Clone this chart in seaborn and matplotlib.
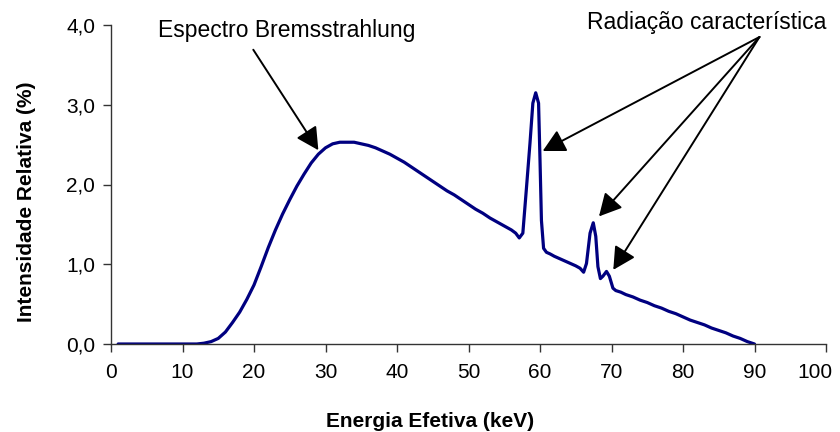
import matplotlib
matplotlib.use("Agg")
import matplotlib.pyplot as plt
from matplotlib.ticker import FuncFormatter
from matplotlib.transforms import ScaledTranslation
import seaborn as sns
import pandas as pd

# X-ray tube spectrum: relative intensity (%) versus effective energy (keV)
energia_kev = [
    1, 2, 3, 4, 5, 6, 7, 8, 9, 10, 11, 12, 13, 14, 15, 16, 17, 18, 19, 20,
    21, 22, 23, 24, 25, 26, 27, 28, 29, 30, 31, 32, 33, 34, 35, 36, 37, 38, 39, 40,
    41, 42, 43, 44, 45, 46, 47, 48, 49, 50, 51, 52, 53, 54, 55, 56, 56.6, 57.1,
    57.6, 58.1, 58.6, 59.0, 59.4, 59.8, 60.0, 60.2, 60.5, 60.9, 61.4, 62, 63, 64,
    65, 65.6, 66.1, 66.5, 67.0, 67.45, 67.8, 68.1, 68.45, 68.8, 69.3, 69.7, 70.2,
    70.6, 71.3, 72, 73, 74, 75, 76, 77, 78, 79, 80, 81, 82, 83, 84, 85, 86, 87,
    88, 89, 90,
]
intensidade = [
    0.0, 0.0, 0.0, 0.0, 0.0, 0.0, 0.0, 0.0, 0.0, 0.0, 0.0, 0.0, 0.01, 0.03, 0.07,
    0.15, 0.27, 0.40, 0.56, 0.74, 0.97, 1.21, 1.43, 1.63, 1.81, 1.98, 2.13, 2.27,
    2.38, 2.46, 2.51, 2.53, 2.53, 2.53, 2.51, 2.49, 2.46, 2.42, 2.38, 2.33,
    2.28, 2.22, 2.16, 2.10, 2.04, 1.98, 1.92, 1.87, 1.81, 1.75, 1.69, 1.64, 1.58,
    1.53, 1.48, 1.43, 1.39, 1.33,
    1.39, 1.95, 2.52, 3.02, 3.15, 3.02, 2.31, 1.55, 1.20, 1.15, 1.13, 1.10, 1.06,
    1.02, 0.98, 0.95, 0.90, 1.01, 1.39, 1.52, 1.35, 0.97, 0.82, 0.85, 0.91, 0.85,
    0.70, 0.67, 0.65, 0.62, 0.59, 0.55, 0.52, 0.48, 0.45, 0.41, 0.38, 0.34, 0.30,
    0.27, 0.24, 0.20, 0.17, 0.14, 0.10, 0.07, 0.03, 0.0,
]

x_ticks = [0, 10, 20, 30, 40, 50, 60, 70, 80, 90, 100]
y_ticks = [0.0, 1.0, 2.0, 3.0, 4.0]

rotulo_x = "Energia Efetiva (keV)"
rotulo_y = "Intensidade Relativa (%)"
texto_brems = "Espectro Bremsstrahlung"
texto_carac = "Radiação característica"

# arrow tail / tip positions in data units
brems_seta = ((19.9, 3.69), (29.0, 2.43))
carac_origem = (90.7, 3.85)
carac_alvos = [(60.38, 2.42), (68.25, 1.60), (70.25, 0.93)]

df = pd.DataFrame({"energia": energia_kev, "intensidade": intensidade})

sns.set_style("ticks")
plt.rcParams["font.family"] = ["Liberation Sans", "DejaVu Sans"]
plt.rcParams["text.color"] = "black"

W, H = 840, 432
fig = plt.figure(figsize=(W / 100, H / 100), dpi=100)
ax = fig.add_axes([111 / W, 1 - 344 / H, 715 / W, 319 / H])

sns.lineplot(data=df, x="energia", y="intensidade", color="#000080",
             linewidth=2.3, ax=ax, sort=False)
for l in ax.lines:
    l.set_solid_joinstyle("round")
    l.set_solid_capstyle("round")

ax.set_xlim(0, 100)
ax.set_ylim(0, 4)
ax.set_xticks(x_ticks)
ax.set_yticks(y_ticks)
ax.yaxis.set_major_formatter(FuncFormatter(lambda v, p: f"{v:.1f}".replace(".", ",")))
ax.set_xlabel("")
ax.set_ylabel("")

for side in ("top", "right"):
    ax.spines[side].set_visible(False)
for side in ("left", "bottom"):
    ax.spines[side].set_color("#333333")
    ax.spines[side].set_linewidth(1.0)
ax.tick_params(axis="both", direction="out", length=5.5, width=1.0,
               color="#333333", labelsize=15, labelcolor="black")
ax.tick_params(axis="x", pad=8)
ax.tick_params(axis="y", pad=6)

# keep the last x tick label inside the figure edge
ultimo = ax.get_xticklabels()[-1]
ultimo.set_transform(ultimo.get_transform() + ScaledTranslation(-0.11, 0, fig.dpi_scale_trans))

fig.text(430 / W, 1 - 426.7 / H, rotulo_x, ha="center", va="baseline",
         fontsize=15, fontweight="bold")
fig.text(32.5 / W, 1 - 201.5 / H, rotulo_y, ha="center", va="baseline",
         rotation=90, rotation_mode="anchor", fontsize=15, fontweight="bold")

fig.text(158 / W, 1 - 36.7 / H, texto_brems, ha="left", va="baseline", fontsize=16.5)
fig.text(586.7 / W, 1 - 28.5 / H, texto_carac, ha="left", va="baseline", fontsize=16.5)

seta = dict(arrowstyle="-|>,head_length=1.37,head_width=0.72", color="black",
            lw=1.4, shrinkA=0, shrinkB=0, mutation_scale=10)
ax.annotate("", xy=brems_seta[1], xytext=brems_seta[0], arrowprops=seta,
            annotation_clip=False)
for alvo in carac_alvos:
    ax.annotate("", xy=alvo, xytext=carac_origem, arrowprops=seta,
                annotation_clip=False)

fig.savefig("out.png", dpi=100)
